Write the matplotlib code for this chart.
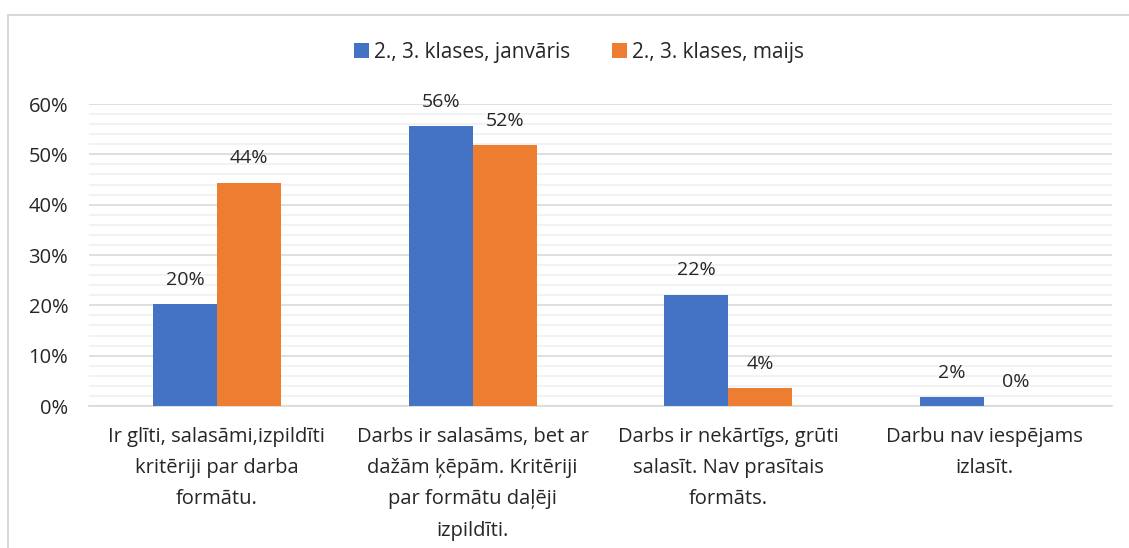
import matplotlib.pyplot as plt
import numpy as np
from matplotlib.patches import Rectangle
from matplotlib.ticker import MultipleLocator, PercentFormatter

plt.rcParams["font.family"] = ["Open Sans", "DejaVu Sans"]

categories = [
    "Ir glīti, salasāmi,izpildīti\nkritēriji par darba\nformātu.",
    "Darbs ir salasāms, bet ar\ndažām ķēpām. Kritēriji\npar formātu daļēji\nizpildīti.",
    "Darbs ir nekārtīgs, grūti\nsalasīt. Nav prasītais\nformāts.",
    "Darbu nav iespējams\nizlasīt.",
]
january = [0.203, 0.556, 0.221, 0.018]
may = [0.444, 0.518, 0.036, 0.0]
series_names = ["2., 3. klases, janvāris", "2., 3. klases, maijs"]

blue = "#4472C4"
orange = "#ED7D31"
text_col = "#262626"

fig = plt.figure(figsize=(11.29, 5.48), dpi=100)
ax = fig.add_axes([0.0788, 0.2591, 0.9062, 0.5511])

# chart border (only top and left visible in the reference)
fig.patches.append(Rectangle((8 / 1129, -0.1), 1.2, 1 - 15 / 548 + 0.1,
                             transform=fig.transFigure, fill=False,
                             edgecolor="#D9D9D9", linewidth=1.5))

x = np.arange(len(categories))
w = 0.25
b1 = ax.bar(x - w / 2, january, w, color=blue, label=series_names[0], zorder=3)
b2 = ax.bar(x + w / 2, may, w, color=orange, label=series_names[1], zorder=3)

for bars in (b1, b2):
    for bar in bars:
        h = bar.get_height()
        ax.annotate(f"{h * 100:.0f}%", (bar.get_x() + bar.get_width() / 2, h),
                    xytext=(0, 11), textcoords="offset points",
                    ha="center", va="bottom", fontsize=14, color=text_col)

ax.set_xlim(-0.5, 3.5)
ax.set_ylim(0, 0.6)
ax.yaxis.set_major_locator(MultipleLocator(0.1))
ax.yaxis.set_minor_locator(MultipleLocator(0.02))
ax.yaxis.set_major_formatter(PercentFormatter(1.0, decimals=0))
ax.grid(axis="y", which="major", color="#D9D9D9", linewidth=1.2, zorder=0)
ax.grid(axis="y", which="minor", color="#F0F0F0", linewidth=1.2, zorder=0)

ax.set_xticks(x)
ax.set_xticklabels(categories, fontsize=14.5, color=text_col, linespacing=1.75)
ax.tick_params(axis="x", length=0, pad=15)
ax.tick_params(axis="y", which="both", length=0, pad=15, labelsize=14.5,
               labelcolor=text_col)

for side in ("top", "right", "left"):
    ax.spines[side].set_visible(False)
ax.spines["bottom"].set_color("#D9D9D9")
ax.spines["bottom"].set_linewidth(1.2)

fig.legend(loc="center", bbox_to_anchor=(0.513, 0.905), ncol=2, frameon=False,
           fontsize=15, handlelength=0.7, handleheight=0.7, handletextpad=0.25,
           columnspacing=2.0, labelcolor=text_col)

fig.savefig("out.png", dpi=100, facecolor="white")
